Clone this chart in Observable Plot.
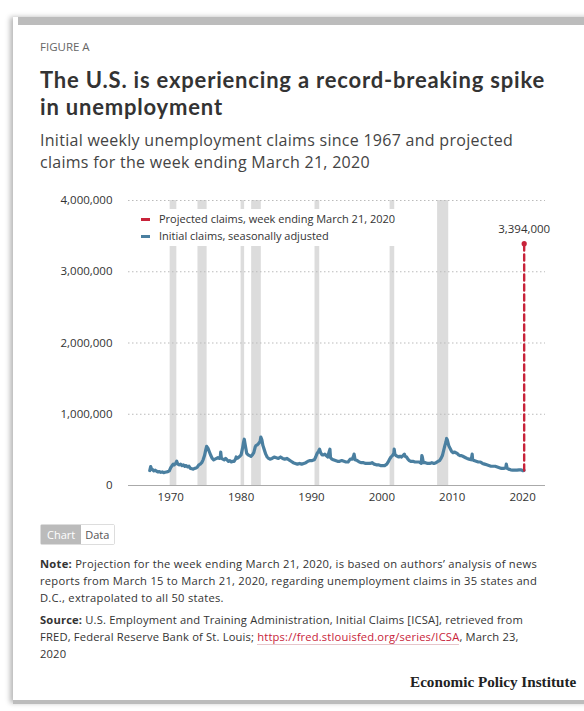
<!DOCTYPE html>
<html>
<head>
<meta charset="utf-8">
<script src="https://cdn.jsdelivr.net/npm/d3@7"></script>
<script src="https://cdn.jsdelivr.net/npm/@observablehq/plot@0.6"></script>
<style>
  html, body { margin: 0; padding: 0; background: #fff; }
  body { width: 584px; height: 711px; position: relative; overflow: hidden; font-family: "Open Sans", Lato, sans-serif; color: #333; }
  .card { position: absolute; left: 13px; top: 17px; width: 600px; height: 686px; background: #fff; box-shadow: -3px 0 5px rgba(0,0,0,0.28); }
  .topbar { position: absolute; left: 18px; top: 17px; width: 566px; height: 8px; background: #bcbcbc; }
  .botbar { position: absolute; left: 13px; top: 700px; width: 571px; height: 4px; background: #bcbcbc; }
  .blk { position: absolute; left: 40px; white-space: nowrap; }
  .fig { top: 39px; font-size: 11.5px; color: #666; }
  .title { top: 67px; font-family: Lato, "Open Sans", sans-serif; font-size: 22px; font-weight: 700; color: #333; line-height: 26.5px; }
  .sub { top: 129px; font-size: 16px; color: #444; line-height: 22px; }
  .note { font-size: 11.2px; color: #333; line-height: 17px; }
  .note a { color: #c8233a; text-decoration: none; border-bottom: 1px solid #e6c6cb; }
  #chart { position: absolute; left: 0; top: 190px; }
  .legend { position: absolute; left: 134px; top: 209px; width: 274px; height: 37px; background: #fff; font-size: 11px; color: #333; }
  .legend div { position: absolute; left: 7px; white-space: nowrap; }
  .legend span.sw { display: inline-block; width: 9px; height: 3px; margin-right: 9px; vertical-align: middle; position: relative; top: -1px; }
  .toggle { position: absolute; left: 40px; top: 524px; font-size: 11px; display: flex; border: 1px solid #ddd; border-radius: 2px; line-height: 15px; }
  .toggle .a { background: #bbb; color: #fff; padding: 2px 6px 2px 6px; }
  .toggle .b { background: #fff; color: #555; padding: 2px 5px 2px 4px; }
  .epi { position: absolute; left: 410px; top: 673px; font-family: "Liberation Serif", "DejaVu Serif", serif; font-weight: 700; font-size: 15.2px; color: #222; white-space: nowrap; }
</style>
</head>
<body>
<div class="card"></div>
<div class="topbar"></div>
<div class="botbar"></div>
<div class="blk fig">FIGURE A</div>
<div class="blk title fit" data-w="505">The U.S. is experiencing a record-breaking spike<br>in unemployment</div>
<div class="blk sub fit" data-w="473">Initial weekly unemployment claims since 1967 and projected<br>claims for the week ending March 21, 2020</div>
<div id="chart"></div>
<div class="legend">
  <div style="top:2px"><span class="sw" style="background:#c8233a"></span>Projected claims, week ending March 21, 2020</div>
  <div style="top:19px"><span class="sw" style="background:#4a7fa0"></span>Initial claims, seasonally adjusted</div>
</div>
<div class="toggle"><span class="a">Chart</span><span class="b">Data</span></div>
<div class="blk note fit" data-w="497" style="top:555px"><span class="l1"><b>Note:</b> Projection for the week ending March 21, 2020, is based on authors’ analysis of news</span><br>reports from March 15 to March 21, 2020, regarding unemployment claims in 35 states and<br>D.C., extrapolated to all 50 states.</div>
<div class="blk note fit" data-w="483" style="top:611px"><span class="l1"><b>Source:</b> U.S. Employment and Training Administration, Initial Claims [ICSA], retrieved from</span><br>FRED, Federal Reserve Bank of St. Louis; <a>https://fred.stlouisfed.org/series/ICSA</a>, March 23,<br>2020</div>
<div class="epi">Economic Policy Institute</div>

<script>
// Initial claims, seasonally adjusted, date as decimal year, values in thousands
const claimDates = [
  1967.02,1967.15,1967.25,1967.32,1967.45,1967.6,1967.8,1968.0,1968.2,1968.4,1968.6,1968.8,1969.0,1969.2,1969.4,1969.6,1969.8,
  1970.0,1970.2,1970.35,1970.5,1970.7,1970.85,1971.0,1971.2,1971.4,1971.6,1971.8,1972.0,1972.2,1972.4,1972.6,1972.8,
  1973.0,1973.2,1973.4,1973.6,1973.8,1974.0,1974.2,1974.4,1974.6,1974.8,1975.0,1975.1,1975.3,1975.5,1975.7,1975.9,
  1976.1,1976.3,1976.5,1976.7,1976.9,1977.05,1977.1,1977.2,1977.4,1977.6,1977.8,1978.0,1978.2,1978.4,1978.6,1978.8,
  1979.0,1979.2,1979.3,1979.4,1979.6,1979.8,1980.0,1980.2,1980.35,1980.45,1980.6,1980.8,1981.0,1981.2,1981.4,1981.6,
  1981.8,1982.0,1982.1,1982.3,1982.5,1982.7,1982.8,1982.95,1983.1,1983.3,1983.5,1983.7,1983.9,1984.1,1984.4,1984.7,
  1985.0,1985.3,1985.6,1985.9,1986.2,1986.5,1986.8,1987.1,1987.4,1987.7,1988.0,1988.3,1988.6,1988.9,1989.2,1989.5,
  1989.8,1990.1,1990.4,1990.6,1990.8,1991.0,1991.15,1991.3,1991.5,1991.7,1991.9,1992.1,1992.3,1992.5,1992.62,1992.7,
  1992.9,1993.1,1993.4,1993.7,1994.0,1994.3,1994.6,1994.9,1995.2,1995.5,1995.8,1996.0,1996.05,1996.2,1996.5,1996.8,
  1997.1,1997.4,1997.7,1998.0,1998.3,1998.6,1998.9,1999.2,1999.5,1999.8,2000.1,2000.4,2000.7,2000.9,2001.1,2001.3,
  2001.5,2001.7,2001.75,2001.85,2002.0,2002.2,2002.4,2002.6,2002.8,2003.0,2003.2,2003.3,2003.5,2003.7,2003.9,2004.1,
  2004.4,2004.7,2005.0,2005.3,2005.6,2005.68,2005.75,2005.9,2006.2,2006.5,2006.8,2007.1,2007.4,2007.7,2008.0,2008.2,
  2008.4,2008.6,2008.8,2008.95,2009.1,2009.2,2009.3,2009.5,2009.7,2009.9,2010.1,2010.3,2010.5,2010.7,2010.9,2011.1,
  2011.3,2011.5,2011.7,2011.9,2012.1,2012.4,2012.7,2012.83,2012.9,2013.1,2013.4,2013.7,2014.0,2014.3,2014.6,2014.9,
  2015.2,2015.5,2015.8,2016.1,2016.4,2016.7,2017.0,2017.3,2017.6,2017.68,2017.8,2018.0,2018.3,2018.6,2018.9,2019.2,
  2019.5,2019.8,2020.0,2020.1,2020.2
];
const claimValues = [
  210,265,240,230,220,205,215,200,190,195,185,190,180,185,190,195,205,
  250,280,300,290,310,340,300,290,300,280,290,270,280,260,270,240,
  235,230,240,245,260,290,300,320,360,420,510,550,520,470,420,380,
  360,370,380,390,380,410,470,380,370,360,380,360,340,350,330,340,
  340,370,400,380,390,410,430,520,610,650,560,450,430,420,410,430,
  460,540,560,570,590,620,680,640,560,500,440,400,380,370,380,400,
  390,380,400,380,370,380,360,340,320,310,300,310,300,310,320,340,
  350,350,360,400,450,480,510,460,430,430,440,420,400,470,510,390,
  370,360,350,340,340,350,340,330,330,370,370,420,440,360,350,330,
  320,320,310,310,310,320,300,290,290,280,280,280,300,330,370,400,
  420,450,510,440,420,410,400,410,400,420,440,410,400,370,350,340,
  340,330,330,330,310,420,400,320,320,310,310,320,310,320,340,350,
  380,420,500,560,610,660,640,560,520,480,460,470,460,450,430,420,
  420,410,400,390,380,370,360,440,360,350,340,330,330,310,300,290,
  280,270,270,270,260,250,240,240,250,300,240,230,220,215,215,215,
  220,220,210,210,211
];
// Projected claims, week ending March 21, 2020 (thousands)
const projDates = [2020.22, 2020.22];
const projValues = [211, 3394];
const projLabel = "3,394,000";
// Recessions (shaded)
const recStart = [1969.92, 1973.87, 1980.0, 1981.5, 1990.5, 2001.17, 2007.92];
const recEnd   = [1970.87, 1975.17, 1980.5, 1982.87, 1991.17, 2001.83, 2009.5];
const yTicks = [0, 1000000, 2000000, 3000000, 4000000];
const xTicks = [1970, 1980, 1990, 2000, 2010, 2020];

const claims = claimDates.map((d, i) => ({date: d, value: claimValues[i] * 1000}));
const proj = projDates.map((d, i) => ({date: d, value: projValues[i] * 1000}));
const rec = recStart.map((s, i) => ({x1: s, x2: recEnd[i]}));

const chart = Plot.plot({
  width: 584,
  height: 320,
  marginLeft: 128,
  marginRight: 39,
  marginTop: 10,
  marginBottom: 25,
  style: {fontFamily: "'Open Sans', Lato, sans-serif", fontSize: "11.5px", color: "#333", background: "transparent"},
  x: {domain: [1964.0, 2023.25], ticks: xTicks, tickFormat: d => String(d), tickSize: 0, tickPadding: 7, label: null},
  y: {domain: [0, 4000000], ticks: yTicks, tickFormat: d3.format(","), tickSize: 0, tickPadding: 16, label: null},
  marks: [
    Plot.rectY(rec, {x1: "x1", x2: "x2", y1: 0, y2: 4000000, fill: "#dcdcdc"}),
    Plot.ruleY(yTicks.filter(d => d > 0), {stroke: "#bbb", strokeDasharray: "1.5,2.5", strokeWidth: 1}),
    Plot.ruleY([0], {stroke: "#aaa", strokeWidth: 1}),
    Plot.line(claims, {x: "date", y: "value", stroke: "#4a7fa0", strokeWidth: 3.2, strokeLinejoin: "round"}),
    Plot.line(proj, {x: "date", y: "value", stroke: "#c8233a", strokeWidth: 2.4, strokeDasharray: "6,4"}),
    Plot.dot([proj[1]], {x: "date", y: "value", r: 2.6, fill: "#c8233a"}),
    Plot.text([proj[1]], {x: "date", y: "value", text: () => projLabel, dy: -14, fill: "#333", fontSize: 11.5})
  ]
});
document.getElementById("chart").appendChild(chart);

function firstLineWidth(el) {
  const l1 = el.querySelector(".l1");
  if (l1) return [l1.getBoundingClientRect().width, l1.textContent.length];
  const node = el.firstChild;
  const r = document.createRange();
  r.selectNodeContents(node);
  return [r.getBoundingClientRect().width, node.textContent.length];
}
function fit() {
  document.querySelectorAll(".fit").forEach(el => {
    el.style.letterSpacing = "0px";
    const target = +el.dataset.w;
    const [w, n] = firstLineWidth(el);
    el.style.letterSpacing = ((target - w) / n).toFixed(3) + "px";
  });
}
fit();
if (document.fonts && document.fonts.ready) document.fonts.ready.then(fit);
</script>
</body>
</html>
